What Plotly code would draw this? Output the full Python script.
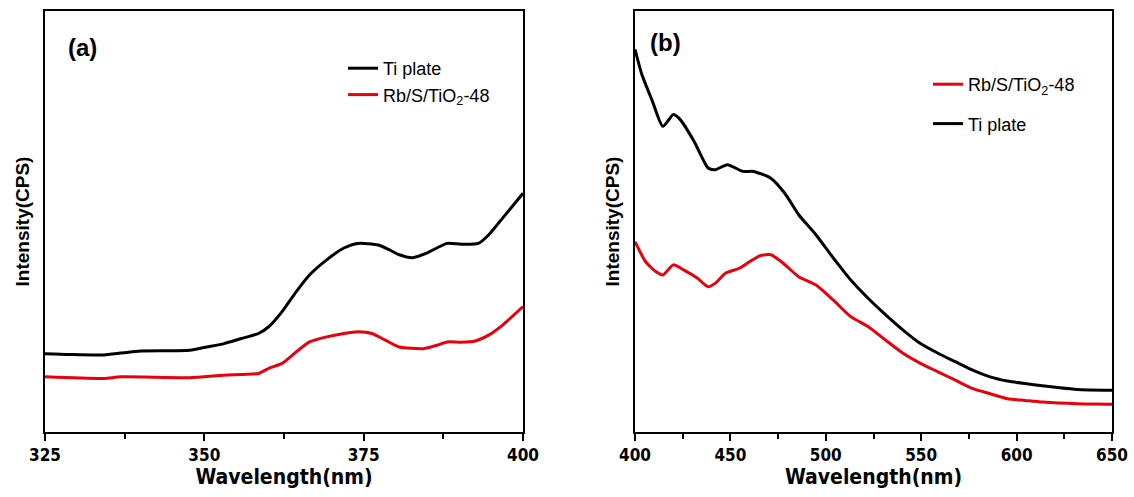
import plotly.graph_objects as go

# ---- data (relative intensity, arbitrary units) ----
wl_a_ti = [325, 328.8, 334.2, 339.6, 347.7, 350.4, 353.1, 355.8, 358.5, 360.1, 362.2, 364.4, 366.5,
           369.2, 371.9, 374.1, 377.3, 379.0, 380.6, 382.7, 384.9, 388.1, 390.3, 393.0, 394.6, 396.8, 400]
int_a_ti = [18.6, 18.4, 18.3, 19.2, 19.4, 20.2, 21.0, 22.2, 23.4, 25.0, 28.6, 33.3, 37.3,
            40.9, 43.7, 44.8, 44.4, 43.3, 42.1, 41.4, 42.5, 44.8, 44.6, 44.8, 46.8, 50.8, 56.7]

wl_a_rb = [325, 334.2, 336.9, 347.7, 353.1, 358.5, 360.1, 362.2, 364.4, 366.5, 369.2, 371.9, 374.1,
           376.3, 378.4, 380.6, 384.4, 386.5, 388.1, 390.3, 392.5, 394.6, 396.8, 400]
int_a_rb = [13.1, 12.7, 13.1, 12.9, 13.5, 13.9, 15.1, 16.3, 19.0, 21.4, 22.6, 23.4, 23.8,
            23.4, 21.8, 20.2, 19.8, 20.6, 21.4, 21.3, 21.6, 23.0, 25.4, 29.8]

wl_b_ti = [400, 403.6, 409.1, 414.6, 420.1, 423.7, 431.0, 438.3, 442.0, 448.4, 456.6, 462.0, 471.2,
           478.5, 485.8, 494.9, 504.0, 513.1, 522.3, 531.4, 540.5, 549.6, 558.8, 567.9, 577.0, 586.1,
           595.3, 604.4, 613.5, 622.6, 631.8, 650]
int_b_ti = [90.9, 84.9, 78.6, 72.6, 75.4, 74.2, 69.0, 62.7, 62.3, 63.5, 61.9, 61.9, 60.3,
            56.7, 51.6, 46.8, 41.3, 36.1, 31.7, 27.8, 24.2, 21.0, 18.7, 16.7, 14.7, 13.1,
            12.1, 11.5, 11.0, 10.5, 10.1, 9.9]

wl_b_rb = [400, 405.5, 410.9, 414.6, 420.1, 425.5, 432.8, 438.3, 442.0, 447.4, 454.7, 460.2, 465.7,
           471.2, 476.6, 485.8, 494.9, 504.0, 513.1, 522.3, 531.4, 540.5, 549.6, 558.8, 567.9, 577.0,
           586.1, 595.3, 604.4, 613.5, 631.8, 650]
int_b_rb = [45.2, 40.5, 38.1, 37.3, 39.7, 38.5, 36.5, 34.5, 35.3, 37.7, 38.9, 40.5, 41.9,
            42.1, 40.5, 36.9, 34.9, 31.3, 27.4, 25.0, 21.8, 18.7, 16.3, 14.3, 12.3, 10.3,
            9.1, 7.9, 7.5, 7.1, 6.7, 6.6]

ticks_a = [325, 350, 375, 400]
ticks_b = [400, 450, 500, 550, 600, 650]

name_ti = "Ti plate"
name_rb = "Rb/S/TiO<sub>2</sub>-48"

BLACK = "#000000"
RED = "#e8000b"
COND = "DejaVu Sans Condensed, Liberation Sans Narrow, Arial Narrow, sans-serif"
REG = "Liberation Sans, Arial, sans-serif"

fig = go.Figure()
fig.add_trace(go.Scatter(x=wl_a_ti, y=int_a_ti, mode="lines", name=name_ti,
                         line=dict(color=BLACK, width=3, shape="spline", smoothing=0.6),
                         xaxis="x", yaxis="y", legend="legend"))
fig.add_trace(go.Scatter(x=wl_a_rb, y=int_a_rb, mode="lines", name=name_rb,
                         line=dict(color=RED, width=3, shape="spline", smoothing=0.6),
                         xaxis="x", yaxis="y", legend="legend"))
fig.add_trace(go.Scatter(x=wl_b_rb, y=int_b_rb, mode="lines", name=name_rb, legendgroup="b1",
                         line=dict(color=RED, width=3, shape="spline", smoothing=0.6),
                         xaxis="x2", yaxis="y2", legend="legend2"))
fig.add_trace(go.Scatter(x=wl_b_ti, y=int_b_ti, mode="lines", name=name_ti, legendgroup="b2",
                         line=dict(color=BLACK, width=3, shape="spline", smoothing=0.6),
                         xaxis="x2", yaxis="y2", legend="legend2"))

W, H = 1134, 497
ydom = [1 - 432 / H, 1 - 11 / H]

def xax(dom, rng, ticks, minor_dt, anchor):
    return dict(domain=dom, range=rng, anchor=anchor, tickvals=ticks,
                showline=True, linecolor="black", linewidth=2, mirror=True,
                ticks="outside", ticklen=7, tickwidth=2, tickcolor="black",
                minor=dict(ticks="outside", ticklen=5, tickwidth=2, tickcolor="black", dtick=minor_dt, tick0=rng[0]),
                showgrid=False, zeroline=False,
                tickfont=dict(family=COND, size=17, color="black", weight="bold"),
                title=dict(text="Wavelength(nm)", standoff=0,
                           font=dict(family=COND, size=21, color="black", weight="bold")),
                automargin=False)

def yax(anchor):
    return dict(domain=ydom, range=[0, 100], anchor=anchor, showticklabels=False, ticks="",
                showline=True, linecolor="black", linewidth=2, mirror=True,
                showgrid=False, zeroline=False,
                title=dict(text="Intensity(CPS)", standoff=8,
                           font=dict(family=REG, size=19, color="black", weight="bold")),
                automargin=False)

fig.update_layout(
    width=W, height=H,
    margin=dict(l=0, r=0, t=0, b=0),
    paper_bgcolor="white", plot_bgcolor="white",
    xaxis=xax([45 / W, 523 / W], [325, 400], ticks_a, 12.5, "y"),
    yaxis=yax("x"),
    xaxis2=xax([635 / W, 1112 / W], [400, 650], ticks_b, 25, "y2"),
    yaxis2=yax("x2"),
    legend=dict(x=343 / W, y=1 - 50 / H, xanchor="left", yanchor="top",
                bgcolor="rgba(0,0,0,0)", font=dict(family=REG, size=18, color="black"),
                tracegroupgap=0, itemwidth=30),
    legend2=dict(x=928 / W, y=1 - 66 / H, xanchor="left", yanchor="top",
                 bgcolor="rgba(0,0,0,0)", font=dict(family=REG, size=18, color="black"),
                 tracegroupgap=13, itemwidth=30),
    showlegend=True,
    annotations=[
        dict(text="(a)", x=66 / W, y=1 - 48 / H, xref="paper", yref="paper", showarrow=False,
             xanchor="left", yanchor="middle",
             font=dict(family=REG, size=24, color="black", weight="bold")),
        dict(text="(b)", x=648 / W, y=1 - 42 / H, xref="paper", yref="paper", showarrow=False,
             xanchor="left", yanchor="middle",
             font=dict(family=REG, size=24, color="black", weight="bold")),
    ],
)

fig.write_html("out.html")
